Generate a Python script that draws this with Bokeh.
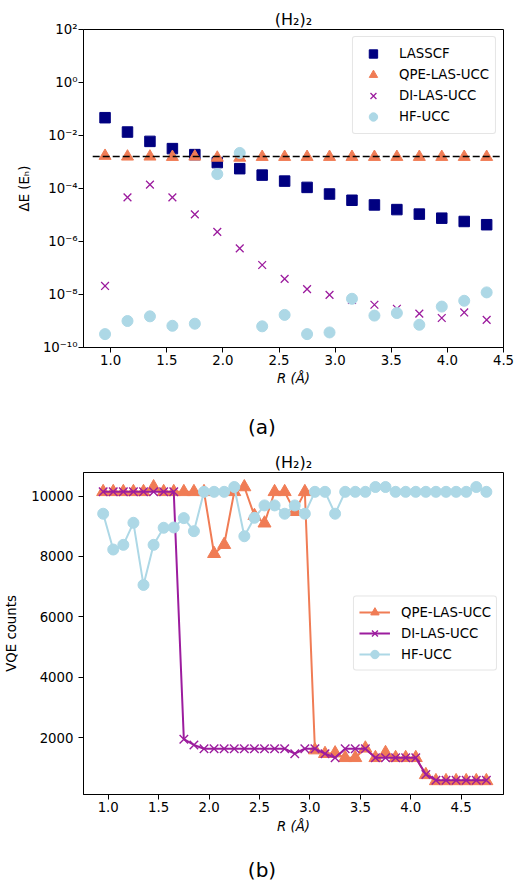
from bokeh.plotting import figure
from bokeh.models import (Range1d, FixedTicker, CustomJSTickFormatter, PrintfTickFormatter,
                          Legend, LegendItem, Div)
from bokeh.layouts import column
from bokeh.embed import file_html
from bokeh.resources import INLINE

# ---------------- data: panel (a) ----------------
R_a = [0.95, 1.15, 1.35, 1.55, 1.75, 1.95, 2.15, 2.35, 2.55, 2.75,
       2.95, 3.15, 3.35, 3.55, 3.75, 3.95, 4.15, 4.35]
lasscf_a = [4.7e-2, 1.35e-2, 6.0e-3, 3.2e-3, 1.9e-3, 9.5e-4, 5.6e-4, 3.2e-4, 1.9e-4, 1.1e-4,
            6.2e-5, 3.6e-5, 2.4e-5, 1.6e-5, 1.08e-5, 7.6e-6, 5.7e-6, 4.3e-6]
qpe_a = [1.7e-3, 1.6e-3, 1.6e-3, 1.55e-3, 1.6e-3, 1.45e-3, 1.45e-3, 1.55e-3, 1.55e-3, 1.55e-3,
         1.55e-3, 1.55e-3, 1.55e-3, 1.55e-3, 1.55e-3, 1.55e-3, 1.55e-3, 1.55e-3]
di_a = [2.1e-8, 4.6e-5, 1.4e-4, 4.6e-5, 1.05e-5, 2.3e-6, 5.5e-7, 1.3e-7, 3.9e-8, 1.6e-8,
        9.7e-9, 6.3e-9, 4.1e-9, 2.9e-9, 1.9e-9, 1.3e-9, 2.1e-9, 1.1e-9]
hf_a = [3.2e-10, 1.0e-9, 1.5e-9, 6.6e-10, 7.9e-10, 3.5e-4, 2.2e-3, 6.3e-10, 1.7e-9, 3.2e-10,
        3.7e-10, 6.9e-9, 1.6e-9, 2.0e-9, 7.2e-10, 3.5e-9, 5.8e-9, 1.2e-8]
chem_acc_x = [0.84, 4.49]
chem_acc = 1.6e-3
log_ticks = [1e-10, 1e-8, 1e-6, 1e-4, 1e-2, 1e0, 1e2]
x_ticks_a = [1.0, 1.5, 2.0, 2.5, 3.0, 3.5, 4.0, 4.5]

# ---------------- data: panel (b) ----------------
R_b = [0.95, 1.05, 1.15, 1.25, 1.35, 1.45, 1.55, 1.65, 1.75, 1.85,
       1.95, 2.05, 2.15, 2.25, 2.35, 2.45, 2.55, 2.65, 2.75, 2.85,
       2.95, 3.05, 3.15, 3.25, 3.35, 3.45, 3.55, 3.65, 3.75, 3.85,
       3.95, 4.05, 4.15, 4.25, 4.35, 4.45, 4.55, 4.65, 4.75]
qpe_b = [10140, 10140, 10140, 10140, 10140, 10300, 10140, 10140, 10140, 10140,
         10140, 8090, 8390, 10140, 10300, 9350, 9100, 10140, 10140, 9480,
         10140, 1590, 1470, 1490, 1335, 1335, 1650, 1335, 1500, 1335,
         1335, 1335, 770, 570, 570, 570, 570, 570, 570]
di_b = [10140, 10140, 10140, 10140, 10140, 10140, 10140, 10140, 1950, 1760,
        1635, 1635, 1635, 1635, 1635, 1635, 1635, 1635, 1635, 1470,
        1635, 1635, 1470, 1335, 1635, 1635, 1635, 1335, 1335, 1335,
        1335, 1335, 785, 595, 595, 595, 595, 595, 595]
hf_b = [9415, 8230, 8385, 9115, 7057, 8385, 8950, 8960, 9270, 8837,
        10140, 10140, 10140, 10300, 8670, 9280, 9690, 9690, 9415, 9690,
        9415, 10140, 10140, 9415, 10140, 10140, 10140, 10300, 10300, 10140,
        10140, 10140, 10140, 10140, 10140, 10140, 10140, 10300, 10140]
y_ticks_b = [2000, 4000, 6000, 8000, 10000]
x_ticks_b = [1.0, 1.5, 2.0, 2.5, 3.0, 3.5, 4.0, 4.5]

FONT = "DejaVu Sans"
TICK_FS = "13.3px"
C_NAVY = "#000080"
C_CORAL = "#f07c55"
C_MAG = "#9c1c9e"
C_LB = "#add8e6"
PAGE_W = 515


def style_axes(p):
    for ax in (p.xaxis[0], p.yaxis[0]):
        ax.major_tick_out = 5
        ax.major_tick_in = 0
        ax.minor_tick_out = 0
        ax.minor_tick_in = 0
        ax.axis_line_color = "black"
        ax.major_tick_line_color = "black"
        ax.major_label_text_font = FONT
        ax.major_label_text_font_size = TICK_FS
        ax.major_label_text_color = "black"
        ax.axis_label_text_font = FONT
        ax.axis_label_text_font_size = TICK_FS
        ax.axis_label_text_font_style = "normal"
        ax.axis_label_text_color = "black"
    p.xgrid.visible = False
    p.ygrid.visible = False
    p.outline_line_color = "black"
    p.outline_line_width = 1
    p.title.text_font = FONT
    p.title.text_font_size = "16px"
    p.title.text_font_style = "normal"
    p.title.text_color = "black"
    p.title.align = "center"


def style_legend(lg):
    lg.label_text_font = FONT
    lg.label_text_font_size = TICK_FS
    lg.label_text_color = "black"
    lg.border_line_color = "#cccccc"
    lg.border_line_width = 1
    lg.background_fill_alpha = 0.85
    lg.label_height = 18
    lg.glyph_height = 21
    lg.spacing = -1
    try:
        lg.border_radius = 3
    except Exception:
        pass


def caption(txt, h):
    return Div(text=txt, width=PAGE_W, height=h, margin=0,
               styles={"font-family": FONT, "font-size": "20px", "text-align": "center",
                       "text-indent": "9px", "line-height": f"{h}px", "color": "black"})


# ---------------- panel (a) ----------------
pa = figure(width=PAGE_W, height=413, output_backend="svg", toolbar_location=None,
            y_axis_type="log", x_range=Range1d(0.758, 4.5), y_range=Range1d(1e-10, 1e2),
            min_border_left=77, min_border_right=12, min_border_top=29, min_border_bottom=66,
            title="(H\u2082)\u2082")
style_axes(pa)
pa.title.standoff = 1

r1 = pa.scatter(R_a, lasscf_a, marker="square", size=10.5, fill_color=C_NAVY, line_color=C_NAVY)
r2 = pa.scatter(R_a, qpe_a, marker="triangle", size=12, fill_color=C_CORAL, line_color=C_CORAL)
r3 = pa.scatter(R_a, di_a, marker="x", size=11, line_color=C_MAG, line_width=1.3)
r4 = pa.scatter(R_a, hf_a, marker="circle", size=11, fill_color=C_LB, line_color=C_LB)
pa.line(chem_acc_x, [chem_acc, chem_acc], line_color="black", line_width=1.5, line_dash="7 3")

pa.xaxis.ticker = FixedTicker(ticks=x_ticks_a)
pa.xaxis.formatter = PrintfTickFormatter(format="%.1f")
pa.yaxis.ticker = FixedTicker(ticks=log_ticks)
pa.yaxis.formatter = CustomJSTickFormatter(code="""
const sup = {"-": "\\u207b", "0": "\\u2070", "1": "\\u00b9", "2": "\\u00b2", "3": "\\u00b3",
             "4": "\\u2074", "5": "\\u2075", "6": "\\u2076", "7": "\\u2077", "8": "\\u2078", "9": "\\u2079"};
const e = Math.round(Math.log10(tick));
return "10" + String(e).split("").map(c => sup[c]).join("");
""")
pa.xaxis.major_label_standoff = 2
pa.yaxis.major_label_standoff = 1
pa.xaxis.axis_label = "R (\u00c5)"
pa.xaxis.axis_label_text_font_style = "italic"
pa.xaxis.axis_label_standoff = 3
pa.yaxis.axis_label = "\u0394E (E\u2095)"
pa.yaxis.axis_label_standoff = 8

leg_a = Legend(items=[LegendItem(label="LASSCF", renderers=[r1]),
                      LegendItem(label="QPE-LAS-UCC", renderers=[r2]),
                      LegendItem(label="DI-LAS-UCC", renderers=[r3]),
                      LegendItem(label="HF-UCC", renderers=[r4])],
               location="top_right")
style_legend(leg_a)
leg_a.padding = 6
leg_a.glyph_width = 28
leg_a.label_standoff = 12
leg_a.margin = 7
pa.add_layout(leg_a)

# ---------------- panel (b) ----------------
pb = figure(width=PAGE_W, height=416, output_backend="svg", toolbar_location=None,
            x_range=Range1d(0.755, 4.92), y_range=Range1d(120, 10780),
            min_border_left=83, min_border_right=2, min_border_top=31, min_border_bottom=63,
            title="(H\u2082)\u2082")
style_axes(pb)
pb.title.standoff = 2

q_l = pb.line(R_b, qpe_b, line_color=C_CORAL, line_width=2)
q_m = pb.scatter(R_b, qpe_b, marker="triangle", size=13, fill_color=C_CORAL, line_color=C_CORAL)
d_l = pb.line(R_b, di_b, line_color=C_MAG, line_width=2)
d_m = pb.scatter(R_b, di_b, marker="x", size=12, line_color=C_MAG, line_width=1.4)
h_l = pb.line(R_b, hf_b, line_color=C_LB, line_width=2)
h_m = pb.scatter(R_b, hf_b, marker="circle", size=11, fill_color=C_LB, line_color=C_LB)

pb.xaxis.ticker = FixedTicker(ticks=x_ticks_b)
pb.xaxis.formatter = PrintfTickFormatter(format="%.1f")
pb.yaxis.ticker = FixedTicker(ticks=y_ticks_b)
pb.xaxis.major_label_standoff = 2
pb.yaxis.major_label_standoff = 5
pb.xaxis.axis_label = "R (\u00c5)"
pb.xaxis.axis_label_text_font_style = "italic"
pb.xaxis.axis_label_standoff = 4
pb.yaxis.axis_label = "VQE counts"
pb.yaxis.axis_label_standoff = 9

leg_b = Legend(items=[LegendItem(label="QPE-LAS-UCC", renderers=[q_l, q_m]),
                      LegendItem(label="DI-LAS-UCC", renderers=[d_l, d_m]),
                      LegendItem(label="HF-UCC", renderers=[h_l, h_m])],
               location="center_right")
style_legend(leg_b)
leg_b.padding = 5
leg_b.glyph_width = 31
leg_b.label_standoff = 11
leg_b.margin = 6
pb.add_layout(leg_b)

layout = column(pa, caption("(a)", 28), pb, caption("(b)", 27), spacing=0)
open("out.html", "w").write(file_html(layout, INLINE))
